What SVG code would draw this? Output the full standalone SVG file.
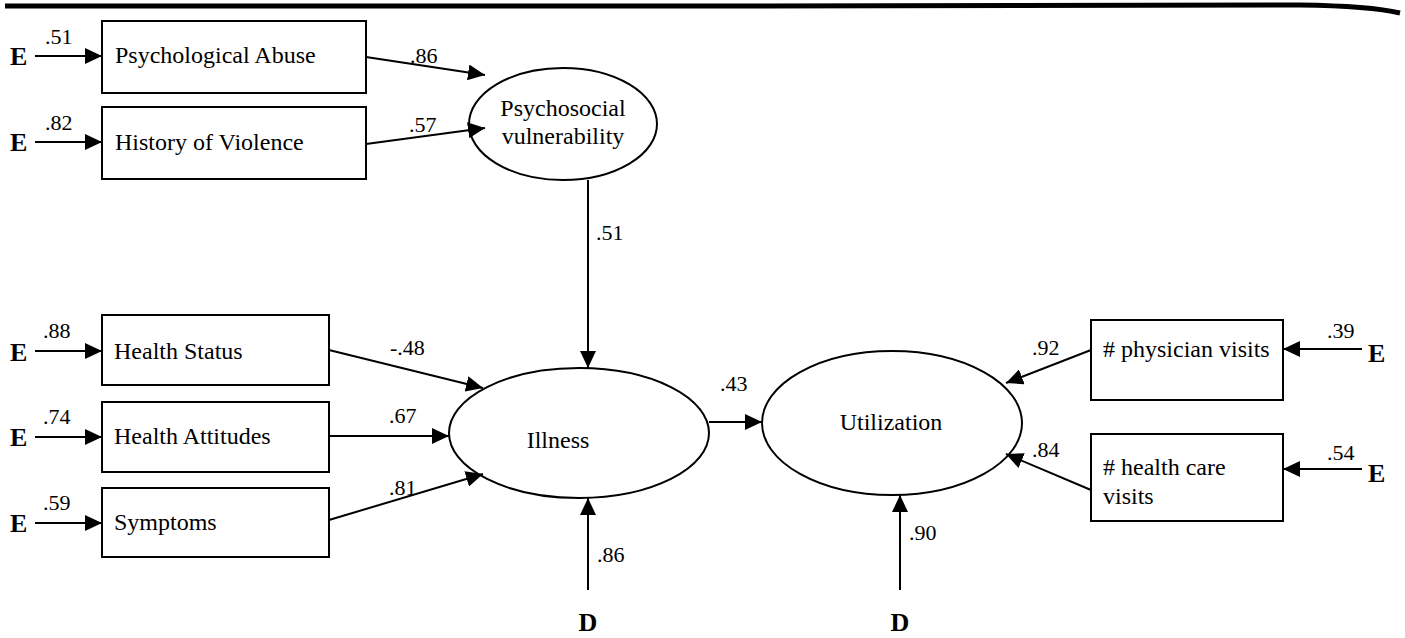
<svg xmlns="http://www.w3.org/2000/svg" width="1405" height="638" viewBox="0 0 1405 638">
<style>
.box{fill:#fff;stroke:#000;stroke-width:2}
.ell{fill:#fff;stroke:#000;stroke-width:2}
.t{font-family:"Liberation Serif",serif;font-size:24px;fill:#000}
.n{font-family:"Liberation Serif",serif;font-size:22px;fill:#000}
.b{font-family:"Liberation Serif",serif;font-size:26px;font-weight:bold;fill:#000}
.c{stroke:#000;stroke-width:2;fill:none;marker-end:url(#ah)}
</style>
<defs>
<marker id="ah" markerUnits="userSpaceOnUse" markerWidth="19" markerHeight="16" refX="17" refY="8" orient="auto">
<path d="M0,0 L17,8 L0,16 Z" fill="#000"/>
</marker>
</defs>
<rect width="1405" height="638" fill="#fff"/>
<path d="M5,6 L700,6 L1300,5 Q1370,6 1400,13" stroke="#000" stroke-width="5" fill="none"/>

<g id="E1"><text class="b" x="10" y="65">E</text></g>
<g id="E2"><text class="b" x="10" y="151">E</text></g>
<g id="E3"><text class="b" x="10" y="361">E</text></g>
<g id="E4"><text class="b" x="10" y="446">E</text></g>
<g id="E5"><text class="b" x="10" y="532">E</text></g>
<g id="E6"><text class="b" x="1368" y="362">E</text></g>
<g id="E7"><text class="b" x="1368" y="482">E</text></g>
<g id="D1"><text class="b" x="588" y="631" text-anchor="middle">D</text></g>
<g id="D2"><text class="b" x="900" y="631" text-anchor="middle">D</text></g>

<g id="psychAbuse"><rect class="box" x="102" y="21" width="264" height="72"/><text class="t" x="115" y="63">Psychological Abuse</text></g>
<g id="historyViolence"><rect class="box" x="102" y="107" width="264" height="72"/><text class="t" x="115" y="150">History of Violence</text></g>
<g id="psychVuln"><ellipse class="ell" cx="563" cy="124" rx="94" ry="56"/><text class="t" x="563" y="116" text-anchor="middle">Psychosocial</text><text class="t" x="563" y="144" text-anchor="middle">vulnerability</text></g>
<g id="healthStatus"><rect class="box" x="102" y="315" width="227" height="70"/><text class="t" x="114" y="359">Health Status</text></g>
<g id="healthAttitudes"><rect class="box" x="102" y="402" width="227" height="70"/><text class="t" x="114" y="444">Health Attitudes</text></g>
<g id="symptoms"><rect class="box" x="102" y="488" width="227" height="69"/><text class="t" x="114" y="530">Symptoms</text></g>
<g id="illness"><ellipse class="ell" cx="579" cy="433" rx="130" ry="65"/><text class="t" x="558" y="448" text-anchor="middle">Illness</text></g>
<g id="utilization"><ellipse class="ell" cx="892" cy="423" rx="130" ry="72"/><text class="t" x="891" y="430" text-anchor="middle">Utilization</text></g>
<g id="physicianVisits"><rect class="box" x="1091" y="320" width="192" height="80"/><text class="t" x="1103" y="357">#  physician visits</text></g>
<g id="healthCareVisits"><rect class="box" x="1091" y="434" width="192" height="87"/><text class="t" x="1103" y="475">#  health care</text><text class="t" x="1103" y="504">visits</text></g>

<g id="connectors">
<line class="c" x1="35" y1="56" x2="102" y2="56"/>
<line class="c" x1="35" y1="142" x2="102" y2="142"/>
<line class="c" x1="35" y1="351" x2="102" y2="351"/>
<line class="c" x1="35" y1="437" x2="102" y2="437"/>
<line class="c" x1="35" y1="523" x2="102" y2="523"/>
<line class="c" x1="366" y1="57" x2="485" y2="75"/>
<line class="c" x1="366" y1="144" x2="485" y2="128"/>
<line class="c" x1="588" y1="180" x2="588" y2="368"/>
<line class="c" x1="329" y1="350" x2="483" y2="388"/>
<line class="c" x1="329" y1="436" x2="449" y2="436"/>
<line class="c" x1="329" y1="520" x2="483" y2="474"/>
<line class="c" x1="709" y1="422" x2="762" y2="422"/>
<line class="c" x1="588" y1="590" x2="588" y2="498"/>
<line class="c" x1="900" y1="590" x2="900" y2="495"/>
<line class="c" x1="1091" y1="350" x2="1006" y2="383"/>
<line class="c" x1="1091" y1="490" x2="1006" y2="454"/>
<line class="c" x1="1362" y1="349" x2="1283" y2="349"/>
<line class="c" x1="1362" y1="469" x2="1283" y2="469"/>
<text class="n" x="45" y="44">.51</text>
<text class="n" x="45" y="130">.82</text>
<text class="n" x="43" y="338">.88</text>
<text class="n" x="43" y="424">.74</text>
<text class="n" x="43" y="510">.59</text>
<text class="n" x="410" y="63">.86</text>
<text class="n" x="409" y="132">.57</text>
<text class="n" x="596" y="240">.51</text>
<text class="n" x="390" y="355">-.48</text>
<text class="n" x="389" y="423">.67</text>
<text class="n" x="389" y="495">.81</text>
<text class="n" x="720" y="391">.43</text>
<text class="n" x="597" y="562">.86</text>
<text class="n" x="909" y="540">.90</text>
<text class="n" x="1032" y="355">.92</text>
<text class="n" x="1032" y="457">.84</text>
<text class="n" x="1327" y="338">.39</text>
<text class="n" x="1327" y="460">.54</text>
</g>
</svg>
